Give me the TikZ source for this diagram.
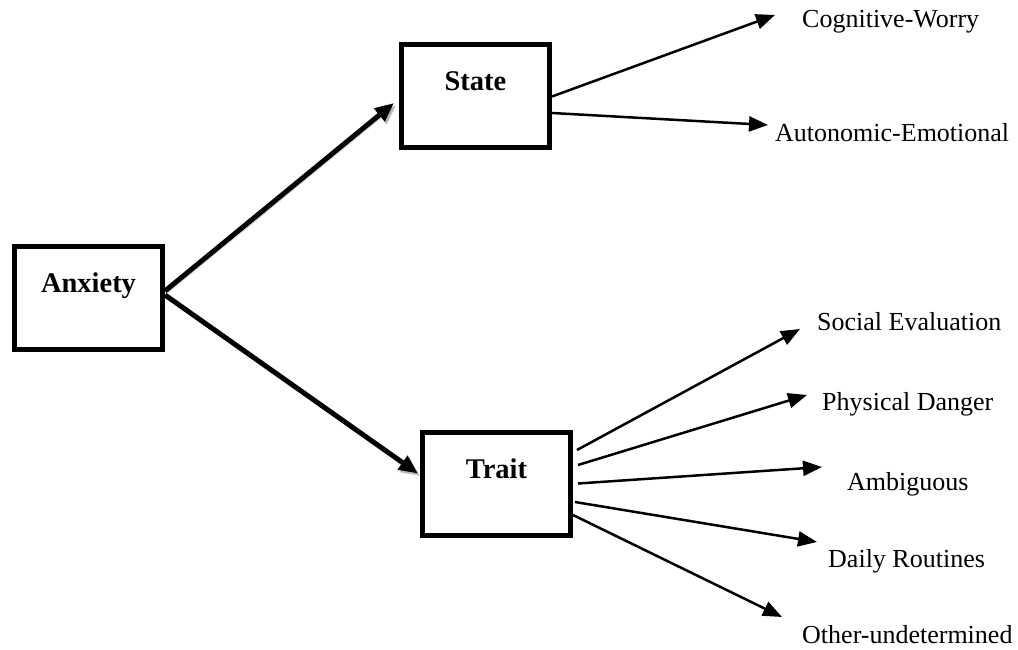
\documentclass[tikz,border=0pt]{standalone}
\usepackage{fontspec}
\setmainfont{Liberation Serif}
\usetikzlibrary{arrows.meta}

\begin{document}
\begin{tikzpicture}[x=1pt,y=-1pt,
	box/.style={draw,line width=5pt,minimum width=148pt,minimum height=103pt,inner sep=0pt,text height=20pt,text depth=31pt,font=\fontsize{28.5}{30}\selectfont\bfseries},
	item/.style={anchor=base west,inner sep=0pt,font=\fontsize{26}{28}\selectfont},
	bigarrow/.style={line width=5pt,-{Triangle[length=19pt,width=16pt]},preaction={draw=gray!55,transform canvas={shift={(2pt,-2.5pt)}}}},
	smallarrow/.style={line width=2.5pt,-{Triangle[length=19pt,width=15pt]}}]
	\useasboundingbox (0,0) rectangle (1018,650);
	\node[box] (anx) at (88.5,298) {Anxiety};
	\node[box] (state) at (475.5,96.5) {State};
	\node[box] (trait) at (496.5,483.5) {Trait};
	\node[item] (cw) at (802,28) {Cognitive-Worry};
	\node[item] (ae) at (775,142) {Autonomic-Emotional};
	\node[item] (se) at (817,330) {Social Evaluation};
	\node[item] (pd) at (822,410) {Physical Danger};
	\node[item] (amb) at (847,490) {Ambiguous};
	\node[item] (dr) at (828,567) {Daily Routines};
	\node[item] (ou) at (802,643) {Other-undetermined};
	\draw[bigarrow] ([yshift=7pt]anx.east) -- ([xshift=-5pt,yshift=-6.5pt]state.west);
	\draw[bigarrow] ([yshift=3pt]anx.east) -- ([xshift=-2pt,yshift=10pt]trait.west);
	\draw[smallarrow] (state.east) -- ([xshift=-27pt,yshift=13pt]cw.base west);
	\draw[smallarrow] ([yshift=-16.5pt]state.east) -- ([xshift=-7pt,yshift=17pt]ae.base west);
	\draw[smallarrow] ([xshift=4pt,yshift=33.5pt]trait.east) -- ([xshift=-17pt,yshift=1pt]se.base west);
	\draw[smallarrow] ([xshift=5pt,yshift=18.5pt]trait.east) -- ([xshift=-15pt,yshift=15pt]pd.base west);
	\draw[smallarrow] ([xshift=5pt]trait.east) -- ([xshift=-25pt,yshift=23pt]amb.base west);
	\draw[smallarrow] ([xshift=2pt,yshift=-18.5pt]trait.east) -- ([xshift=-11pt,yshift=25pt]dr.base west);
	\draw[smallarrow] ([yshift=-31.5pt]trait.east) -- ([xshift=-20pt,yshift=26pt]ou.base west);
\end{tikzpicture}
\end{document}
